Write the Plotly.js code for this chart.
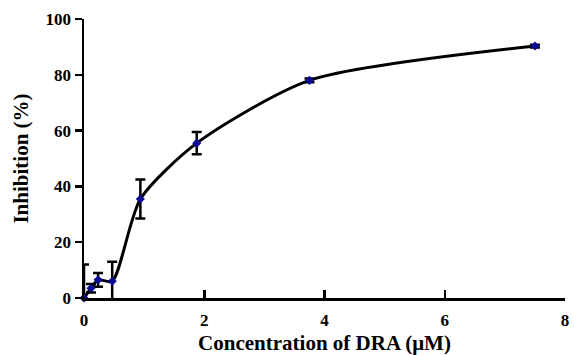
<!DOCTYPE html>
<html>
<head>
<meta charset="utf-8">
<script src="https://cdn.plot.ly/plotly-3.0.1.min.js"></script>
<style>html,body{margin:0;padding:0;background:#fff;}#chart{width:574px;height:355px;}</style>
</head>
<body>
<div id="chart"></div>
<script>
const concentration = [0, 0.117, 0.234, 0.469, 0.9375, 1.875, 3.75, 7.5];
const inhibition = [0, 3.5, 6.5, 6, 35.5, 55.5, 78, 90.3];
const errorValues = [12, 1.5, 2.5, 7, 7, 4, 0.7, 0.5];
const xTicks = [0, 2, 4, 6, 8];
const yTicks = [0, 20, 40, 60, 80, 100];

const font = "'Times New Roman', 'Liberation Serif', serif";

const trace = {
  x: concentration,
  y: inhibition,
  type: 'scatter',
  mode: 'lines+markers',
  line: {color: '#000000', width: 3, shape: 'spline', smoothing: 0.7},
  marker: {symbol: 'diamond', size: 7, color: '#0a0a96'},
  error_y: {type: 'data', array: errorValues, visible: true, color: '#000000', thickness: 2.5, width: 5},
  cliponaxis: false,
  hoverinfo: 'none'
};

const layout = {
  width: 574, height: 355,
  margin: {l: 84, r: 9, t: 19, b: 57},
  paper_bgcolor: '#ffffff', plot_bgcolor: '#ffffff',
  showlegend: false,
  font: {family: font, color: '#000000'},
  xaxis: {
    range: [0, 8], tickvals: xTicks, ticktext: xTicks.map(v => '<b>' + v + '</b>'),
    showgrid: false, zeroline: false, showline: true, linecolor: '#000000', linewidth: 2.5,
    ticks: 'inside', ticklen: 8, tickwidth: 2.5, tickcolor: '#000000',
    ticklabelstandoff: 5,
    tickfont: {family: font, size: 17, color: '#000000', weight: 700},
    title: {text: '<b>Concentration of DRA (μM)</b>', font: {family: font, size: 21, color: '#000000', weight: 700}, standoff: 12}
  },
  yaxis: {
    range: [0, 100], tickvals: yTicks, ticktext: yTicks.map(v => '<b>' + v + '</b>'),
    showgrid: false, zeroline: false, showline: true, linecolor: '#000000', linewidth: 2.5,
    ticks: 'outside', ticklen: 7, tickwidth: 2.5, tickcolor: '#000000',
    tickfont: {family: font, size: 17, color: '#000000', weight: 700},
    title: {text: '<b>Inhibition (%)</b>', font: {family: font, size: 21, color: '#000000', weight: 700}, standoff: 11}
  }
};

Plotly.newPlot('chart', [trace], layout, {displayModeBar: false, staticPlot: true}).then(() => {
  document.querySelectorAll('.xtick text, .ytick text').forEach(t => {
    t.style.fontFamily = "'Liberation Serif', 'Times New Roman', serif";
    t.style.fontWeight = '700';
    getComputedStyle(t).fontWeight;
  });
});
</script>
</body>
</html>
